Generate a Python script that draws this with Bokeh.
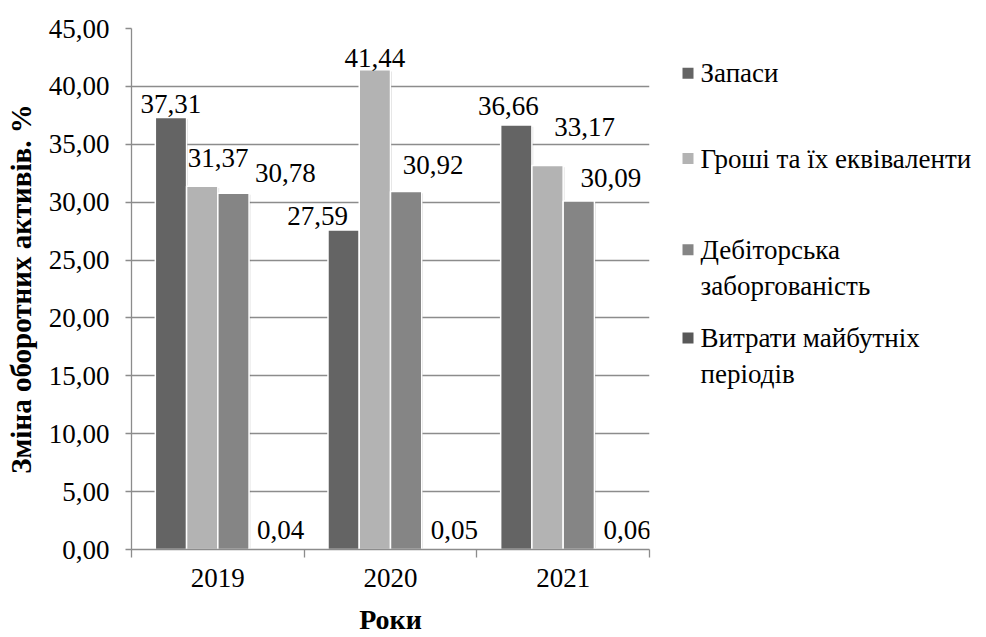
from bokeh.plotting import figure
from bokeh.models import (ColumnDataSource, FixedTicker, CustomJSTickFormatter,
                          Range1d, LabelSet)
from bokeh.layouts import row
from bokeh.embed import file_html
from bokeh.resources import INLINE
from bokeh.core.properties import value

# ---- data -------------------------------------------------------------
years = ["2019", "2020", "2021"]
series_names = ["Запаси", "Гроші та їх еквіваленти",
                "Дебіторська\nзаборгованість", "Витрати майбутніх\nперіодів"]
inventories = [37.31, 27.59, 36.66]
cash = [31.37, 41.44, 33.17]
receivables = [30.78, 30.92, 30.09]
deferred_expenses = [0.04, 0.05, 0.06]
y_ticks = [0, 5, 10, 15, 20, 25, 30, 35, 40, 45]

series_values = [inventories, cash, receivables, deferred_expenses]

# ---- styling ----------------------------------------------------------
FONT = "Liberation Serif"
AXIS_GRAY = "#8c8c8c"
series_colors = ["#646464", "#b3b3b3", "#858585", "#585858"]
bar_pitch = 0.181          # share of a category taken by one bar
# value-label nudges in pixels: (right of bar centre, baseline above bar top)
label_nudges = [
    [(0, 5), (-26, 5), (-8, 10)],
    [(16, 19), (0, 3), (37, 29)],
    [(52, 11), (27, 18), (32, 14)],
    [(16, 10), (17, 10), (17, 10)],
]

FRAME_TOP, FRAME_BOTTOM = 28, 84
p = figure(width=652, height=637, x_range=Range1d(0, len(years)),
           y_range=Range1d(y_ticks[0], y_ticks[-1]),
           output_backend="svg", toolbar_location=None,
           min_border_left=131, min_border_right=3,
           min_border_top=FRAME_TOP, min_border_bottom=FRAME_BOTTOM)
p.outline_line_color = None
p.background_fill_color = "white"
p.border_fill_color = "white"

for i, (vals, color) in enumerate(zip(series_values, series_colors)):
    xs = [k + 0.5 + (i - 1.5) * bar_pitch for k in range(len(years))]
    src = ColumnDataSource(dict(
        x=xs,
        top=vals,
        label=[f"{v:.2f}".replace(".", ",") for v in vals],
        dx=[n[0] for n in label_nudges[i]],
        dy=[n[1] for n in label_nudges[i]],
        sx=[x + 0.012 for x in xs],
        stop=[max(v - 0.15, 0) for v in vals],
    ))
    # soft drop shadow behind each bar
    p.vbar(x="sx", top="stop", width=bar_pitch * 0.95, source=src,
           fill_color="black", fill_alpha=0.16, line_color=None)
    p.vbar(x="x", top="top", width=bar_pitch, source=src,
           fill_color=color, line_color="white", line_width=1.5)
    p.add_layout(LabelSet(x="x", y="top", text="label", x_offset="dx",
                          y_offset="dy", source=src, text_align="center",
                          text_baseline="alphabetic", text_font=value(FONT),
                          text_font_size="27px", text_color="black"))

# y axis
p.yaxis.ticker = FixedTicker(ticks=y_ticks, minor_ticks=[])
p.yaxis.formatter = CustomJSTickFormatter(
    code="return tick.toFixed(2).replace('.', ',');")
p.yaxis.axis_label = "Зміна оборотних активів. %"
p.yaxis.axis_label_text_font = FONT
p.yaxis.axis_label_text_font_style = "bold"
p.yaxis.axis_label_text_font_size = "29px"
p.yaxis.axis_label_text_color = "black"
p.yaxis.axis_label_standoff = 9
p.yaxis.major_label_text_font = FONT
p.yaxis.major_label_text_font_size = "27px"
p.yaxis.major_label_text_color = "black"
p.yaxis.major_label_standoff = 16
p.yaxis.axis_line_color = AXIS_GRAY
p.yaxis.axis_line_width = 1.3
p.yaxis.major_tick_line_color = AXIS_GRAY
p.yaxis.major_tick_line_width = 1.3
p.yaxis.major_tick_out = 6
p.yaxis.major_tick_in = 0

# x axis: year names at centres, tick marks on category boundaries
p.xaxis.ticker = FixedTicker(ticks=[k + 0.5 for k in range(len(years))],
                             minor_ticks=list(range(len(years) + 1)))
p.xaxis.formatter = CustomJSTickFormatter(
    args=dict(labels=years), code="return labels[Math.floor(tick)];")
p.xaxis.axis_label = "Роки"
p.xaxis.axis_label_text_font = FONT
p.xaxis.axis_label_text_font_style = "bold"
p.xaxis.axis_label_text_font_size = "28px"
p.xaxis.axis_label_text_color = "black"
p.xaxis.axis_label_standoff = 14
p.xaxis.major_label_text_font = FONT
p.xaxis.major_label_text_font_size = "27px"
p.xaxis.major_label_text_color = "black"
p.xaxis.major_label_standoff = 11
p.xaxis.axis_line_color = AXIS_GRAY
p.xaxis.axis_line_width = 1.3
p.xaxis.major_tick_out = 0
p.xaxis.major_tick_in = 0
p.xaxis.minor_tick_line_color = AXIS_GRAY
p.xaxis.minor_tick_line_width = 1.3
p.xaxis.minor_tick_out = 8
p.xaxis.minor_tick_in = 0

p.xgrid.visible = False
p.ygrid.ticker = FixedTicker(ticks=y_ticks, minor_ticks=[])
p.ygrid.grid_line_color = AXIS_GRAY
p.ygrid.grid_line_width = 1.3

# ---- legend panel -----------------------------------------------------
# frame shares the main plot's vertical extent, so y values are page pixels
leg = figure(width=334, height=637, x_range=Range1d(0, 334),
             y_range=Range1d(637 - FRAME_BOTTOM, FRAME_TOP),
             output_backend="svg", toolbar_location=None,
             min_border_left=0, min_border_right=0,
             min_border_top=FRAME_TOP, min_border_bottom=FRAME_BOTTOM)
leg.outline_line_color = None
leg.axis.visible = False
leg.grid.visible = False

entry_y = [73, 159, 251, 340]
line_gap = 36
leg.scatter(x=[35.5] * len(series_names), y=entry_y, marker="square",
            size=11, fill_color=series_colors, line_color=None)
tx, ty, tt = [], [], []
for name, y0 in zip(series_names, entry_y):
    for j, line in enumerate(name.split("\n")):
        tx.append(48)
        ty.append(y0 + j * line_gap)
        tt.append(line)
leg.add_layout(LabelSet(x="x", y="y", text="text",
                        source=ColumnDataSource(dict(x=tx, y=ty, text=tt)),
                        text_baseline="middle", text_align="left",
                        text_font=value(FONT), text_font_size="27px",
                        text_color="black"))

layout = row(p, leg, spacing=0)
open("out.html", "w").write(file_html(layout, INLINE))
